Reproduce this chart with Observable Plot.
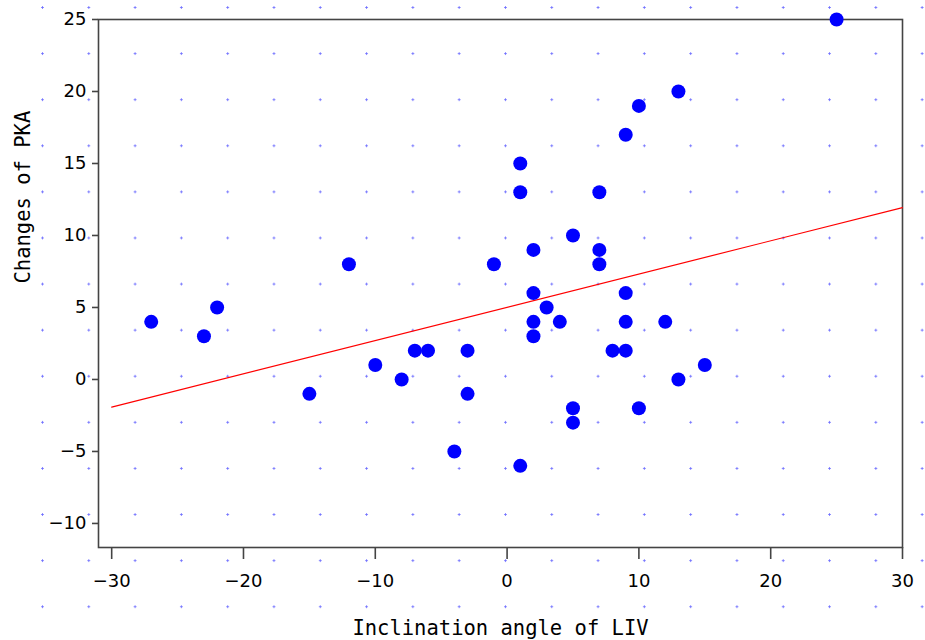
<!DOCTYPE html>
<html>
<head>
<meta charset="utf-8">
<script src="https://cdn.jsdelivr.net/npm/d3@7"></script>
<script src="https://cdn.jsdelivr.net/npm/@observablehq/plot@0.6"></script>
<style>
  html, body { margin: 0; padding: 0; }
  body {
    width: 925px; height: 640px; overflow: hidden;
    background-color: #fff;
    background-image: radial-gradient(circle at center, #6e6eff 0, #6e6eff 0.9px, rgba(255,255,255,0) 1.3px);
    background-size: 46.3px 46.1px;
    background-position: 19.35px -15.55px;
  }
  #chart svg { background: transparent; }
</style>
</head>
<body>
<div id="chart"></div>
<script>
// Inclination angle of LIV (x) and Changes of PKA (y)
const inclination = [-27, -23, -22, -15, -12, -10, -8, -7, -6, -4, -3, -3, -1,
  1, 1, 1, 2, 2, 2, 2, 3, 4, 5, 5, 5, 7, 7, 7, 8, 9, 9, 9, 9, 10, 10, 12, 13, 13, 15, 25];
const pkaChange = [4, 3, 5, -1, 8, 1, 0, 2, 2, -5, 2, -1, 8,
  15, 13, -6, 9, 6, 4, 3, 5, 4, 10, -2, -3, 13, 9, 8, 2, 17, 6, 4, 2, 19, -2, 4, 20, 0, 1, 25];

// fitted line endpoints
const fitX = [-30, 30];
const fitY = [-1.92, 11.94];

const xTicks = [-30, -20, -10, 0, 10, 20, 30];
const yTicks = [-10, -5, 0, 5, 10, 15, 20, 25];

const points = inclination.map((x, i) => ({x, y: pkaChange[i]}));
const fit = fitX.map((x, i) => ({x, y: fitY[i]}));

const axisColor = "#444";

const chart = Plot.plot({
  width: 925,
  height: 640,
  marginLeft: 98,
  marginRight: 23,
  marginTop: 19,
  marginBottom: 93,
  style: {fontFamily: "DejaVu Sans", fontSize: "18px", background: "transparent", color: "#000"},
  x: {domain: [-31, 30], label: null},
  y: {domain: [-11.67, 25], label: null},
  marks: [
    Plot.frame({stroke: axisColor, strokeWidth: 1.6}),
    Plot.axisX({ticks: xTicks, tickSize: 12, tickPadding: 15, stroke: axisColor, strokeWidth: 1.6, fill: "#000", label: null}),
    Plot.axisY({ticks: yTicks, tickSize: 6, tickPadding: 6, stroke: axisColor, strokeWidth: 1.6, fill: "#000", label: null}),
    Plot.line(fit, {x: "x", y: "y", stroke: "#ff0000", strokeWidth: 1.2}),
    Plot.dot(points, {x: "x", y: "y", r: 7, fill: "#0000ff", stroke: "none"}),
    Plot.text(["Inclination angle of LIV"], {
      frameAnchor: "bottom", dy: 87, text: d => d,
      fontFamily: "DejaVu Sans Mono", fontSize: 20.5, fill: "#000", lineAnchor: "bottom"
    }),
    Plot.text(["Changes of PKA"], {
      frameAnchor: "left", dx: -75, rotate: -90, text: d => d,
      fontFamily: "DejaVu Sans Mono", fontSize: 20.5, fill: "#000", lineAnchor: "middle"
    })
  ]
});
document.getElementById("chart").appendChild(chart);
</script>
</body>
</html>
